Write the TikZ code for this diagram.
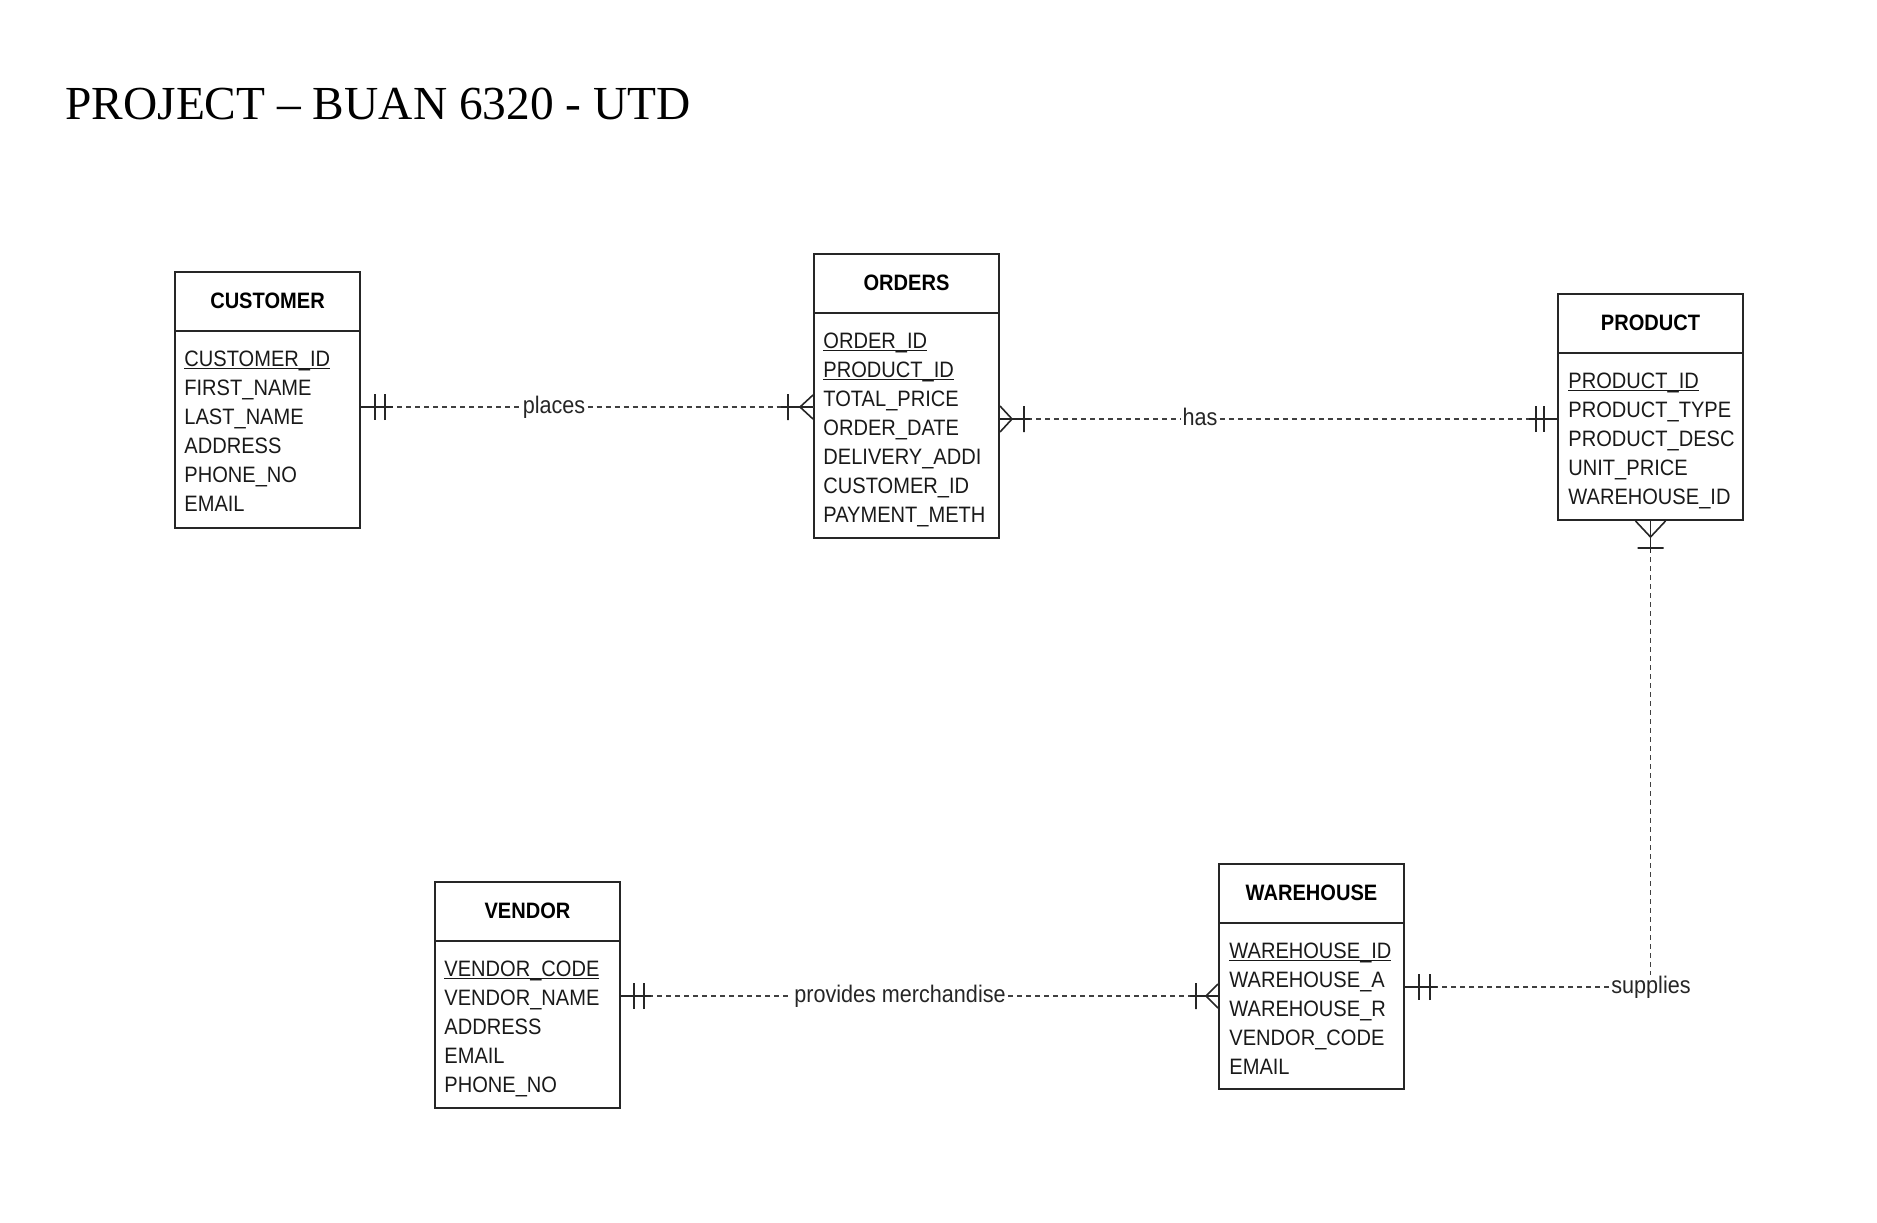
\documentclass[tikz,border=0pt]{standalone}
\usepackage{fontspec}
\usepackage{tikz}
\newfontfamily\erfont[FakeStretch=0.9]{Liberation Sans}
\newfontfamily\titlefont{Liberation Serif}

\begin{document}
\begin{tikzpicture}[x=0.5pt,y=-0.5pt,
	ent/.style={draw=black!85,line width=1pt,minimum width=92.5pt,inner sep=0pt,anchor=north west},
	head/.style={font=\erfont\bfseries\fontsize{11.15pt}{14.5pt}\selectfont,inner sep=0pt},
	attr/.style={font=\erfont\fontsize{11.15pt}{14.5pt}\selectfont,text=black!90,inner sep=0pt,text width=85pt,align=left,anchor=base west},
	lbl/.style={font=\erfont\fontsize{12pt}{14pt}\selectfont,text=black!85,inner sep=1pt,text height=8pt,text depth=2pt},
	rel/.style={draw=black!75,line width=0.7pt,dash pattern=on 2.5pt off 2pt},
	mk/.style={draw=black!85,line width=0.8pt}]
	\useasboundingbox (0,0) rectangle (1877,1222);

	% Title
	\node[anchor=base west,inner sep=0pt,font=\titlefont\fontsize{23.7pt}{28pt}\selectfont] (title) at (65,119) {PROJECT – BUAN 6320 - UTD};

	% Customer entity
	\node[ent,minimum height=128pt] (customer) at (174,271) {};
	\draw[draw=black!85,line width=1pt] ([yshift=-30pt]customer.north west) -- ([yshift=-30pt]customer.north east);
	\node[head] (customer-t) at ([yshift=-15pt]customer.north) {CUSTOMER};
	\node[attr] (customer-a) at ([xshift=5pt,yshift=-47.5pt]customer.north west) {\underline{\smash{CUSTOMER\_ID}}\\FIRST\_NAME\\LAST\_NAME\\ADDRESS\\PHONE\_NO\\EMAIL};

	% Orders entity
	\node[ent,minimum height=142pt] (orders) at (813,253) {};
	\draw[draw=black!85,line width=1pt] ([yshift=-30pt]orders.north west) -- ([yshift=-30pt]orders.north east);
	\node[head] (orders-t) at ([yshift=-15pt]orders.north) {ORDERS};
	\node[attr] (orders-a) at ([xshift=5pt,yshift=-47.5pt]orders.north west) {\underline{\smash{ORDER\_ID}}\\\underline{\smash{PRODUCT\_ID}}\\TOTAL\_PRICE\\ORDER\_DATE\\DELIVERY\_ADDI\\CUSTOMER\_ID\\PAYMENT\_METH};

	% Product entity
	\node[ent,minimum height=113pt] (product) at (1557,293) {};
	\draw[draw=black!85,line width=1pt] ([yshift=-30pt]product.north west) -- ([yshift=-30pt]product.north east);
	\node[head] (product-t) at ([yshift=-15pt]product.north) {PRODUCT};
	\node[attr] (product-a) at ([xshift=5.5pt,yshift=-47.5pt]product.north west) {\underline{\smash{PRODUCT\_ID}}\\PRODUCT\_TYPE\\PRODUCT\_DESC\\UNIT\_PRICE\\WAREHOUSE\_ID};

	% Vendor entity
	\node[ent,minimum height=113pt] (vendor) at (434,881) {};
	\draw[draw=black!85,line width=1pt] ([yshift=-30pt]vendor.north west) -- ([yshift=-30pt]vendor.north east);
	\node[head] (vendor-t) at ([yshift=-15pt]vendor.north) {VENDOR};
	\node[attr] (vendor-a) at ([xshift=5pt,yshift=-47.5pt]vendor.north west) {\underline{\smash{VENDOR\_CODE}}\\VENDOR\_NAME\\ADDRESS\\EMAIL\\PHONE\_NO};

	% Warehouse entity
	\node[ent,minimum height=112.5pt] (warehouse) at (1218,863) {};
	\draw[draw=black!85,line width=1pt] ([yshift=-30pt]warehouse.north west) -- ([yshift=-30pt]warehouse.north east);
	\node[head] (warehouse-t) at ([yshift=-15pt]warehouse.north) {WAREHOUSE};
	\node[attr] (warehouse-a) at ([xshift=5.5pt,yshift=-47.5pt]warehouse.north west) {\underline{\smash{WAREHOUSE\_ID}}\\WAREHOUSE\_A\\WAREHOUSE\_R\\VENDOR\_CODE\\EMAIL};

	% Relationship labels
	\node[lbl] (places) at (554,407) {places};
	\node[lbl] (has) at (1200,419) {has};
	\node[lbl] (provides) at (900,996) {provides merchandise};
	\node[lbl] (supplies) at (1651,987) {supplies};

	% places: customer || --- |< orders
	\draw[rel] (customer.east |- places) -- (places.west);
	\draw[rel] (places.east) -- (orders.west |- places);
	\draw[mk] (customer.east |- places) -- ++(32,0);
	\draw[mk] (customer.east |- places) ++(14,-13) -- ++(0,26) ++(10,0) -- ++(0,-26);
	\draw[mk] (orders.west |- places) -- ++(-32,0);
	\draw[mk] (orders.west |- places) ++(0,-12) -- ++(-13,12) -- ++(13,12) ++(-25,-25) -- ++(0,26);

	% has: orders >| --- || product
	\draw[rel] (orders.east |- has) -- (has.west);
	\draw[rel] (has.east) -- (product.west |- has);
	\draw[mk] (orders.east |- has) -- ++(30,0);
	\draw[mk] (orders.east |- has) ++(0,-13) -- ++(12,13) -- ++(-12,13) ++(24,-26) -- ++(0,26);
	\draw[mk] (product.west |- has) -- ++(-28,0);
	\draw[mk] (product.west |- has) ++(-13,-13) -- ++(0,26) ++(-8,0) -- ++(0,-26);

	% supplies: product (many) --- || warehouse
	\draw[rel] (product.south) -- (product.south |- supplies.north);
	\draw[rel] (supplies.west) -- (warehouse.east |- supplies);
	\draw[mk] (product.south) -- ++(0,32);
	\draw[mk] (product.south) ++(-15,0) -- ++(15,16) -- ++(15,-16) ++(-28,27) -- ++(26,0);
	\draw[mk] (warehouse.east |- supplies) -- ++(32,0);
	\draw[mk] (warehouse.east |- supplies) ++(14,-13) -- ++(0,26) ++(11,0) -- ++(0,-26);

	% provides merchandise: vendor || --- |< warehouse
	\draw[rel] (vendor.east |- provides) -- (provides.west);
	\draw[rel] (provides.east) -- (warehouse.west |- provides);
	\draw[mk] (vendor.east |- provides) -- ++(30,0);
	\draw[mk] (vendor.east |- provides) ++(13,-13) -- ++(0,26) ++(10,0) -- ++(0,-26);
	\draw[mk] (warehouse.west |- provides) -- ++(-28,0);
	\draw[mk] (warehouse.west |- provides) ++(0,-12) -- ++(-12,12) -- ++(12,12) ++(-22,-25) -- ++(0,26);
\end{tikzpicture}
\end{document}
